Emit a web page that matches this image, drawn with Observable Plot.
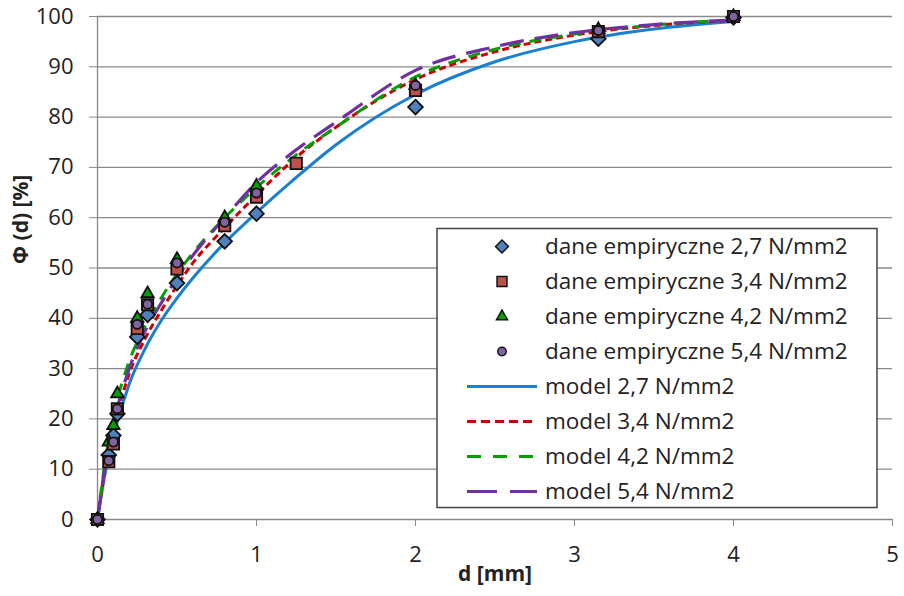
<!DOCTYPE html>
<html>
<head>
<meta charset="utf-8">
<script src="https://cdn.jsdelivr.net/npm/d3@7"></script>
<script src="https://cdn.jsdelivr.net/npm/@observablehq/plot@0.6"></script>
<style>
  html, body { margin: 0; padding: 0; background: #fff; }
  #chart svg { display: block; }
</style>
</head>
<body>
<div id="chart"></div>
<script>
// ---- data ----
const xTicks = [0, 1, 2, 3, 4, 5];
const yTicks = [0, 10, 20, 30, 40, 50, 60, 70, 80, 90, 100];

// empirical data (sieve size d [mm], cumulative %)
const dEmp = [0, 0.071, 0.1, 0.125, 0.25, 0.315, 0.5, 0.8, 1, 2, 3.15, 4];
const dEmp34 = [0, 0.071, 0.1, 0.125, 0.25, 0.315, 0.5, 0.8, 1, 1.25, 2, 3.15, 4];
const emp27 = [0, 12.8, 16.7, 21, 36.3, 40.7, 47, 55.3, 60.8, 82, 95.6, 99.8];
const emp34 = [0, 11.5, 15, 22, 38, 42.7, 49.8, 58.4, 64.1, 70.8, 85.3, 97, 100];
const emp42 = [0, 15.4, 18.7, 25, 40, 44.9, 51.7, 60, 66.3, 86.3, 97.4, 100];
const emp54 = [0, 11.7, 15.4, 22, 38.8, 42.8, 51, 59.1, 64.9, 86.3, 97.2, 100];

// model curves
const dModel = [0, 0.05, 0.1, 0.2, 0.3, 0.4, 0.5, 0.6, 0.8, 1, 1.25, 1.5, 2, 2.5, 3, 3.5, 4];
const model27 = [0, 9.5, 16.5, 27, 34, 39.5, 44, 48, 55, 61, 68, 74.5, 84.5, 91, 95, 97.5, 99];
const model34 = [0, 10.5, 18, 29, 36, 41.5, 46.5, 51, 58, 64.5, 72, 78, 87.5, 93, 96.3, 98.2, 99.2];
const model42 = [0, 12, 20.5, 31.5, 38.5, 44, 48.8, 53, 60, 66, 72.5, 78, 88, 93.5, 96.5, 98.3, 99.3];
const model54 = [0, 11, 19, 30, 37.5, 43, 48, 52.5, 60, 67, 73.5, 79, 89.3, 94, 96.8, 98.4, 99.3];

const legendLabels = [
  "dane empiryczne 2,7 N/mm2",
  "dane empiryczne 3,4 N/mm2",
  "dane empiryczne 4,2 N/mm2",
  "dane empiryczne 5,4 N/mm2",
  "model 2,7 N/mm2",
  "model 3,4 N/mm2",
  "model 4,2 N/mm2",
  "model 5,4 N/mm2"
];

// ---- styles ----
const lineStyles = [
  {stroke: "#1a7fd0", dash: null, width: 3},
  {stroke: "#cc0000", dash: "7,4", width: 3},
  {stroke: "#00a000", dash: "12,9", width: 3},
  {stroke: "#7030a0", dash: "24,11", width: 3.2}
];
const markerStyles = [
  {symbol: "diamond2", fill: "#4f81bd", r: 6.6, lr: 5.8},
  {symbol: "square", fill: "#c0504d", r: 6.4, lr: 5.6},
  {symbol: "triangle", fill: "#00a000", r: 4.6, lr: 4.1},
  {symbol: "circle", fill: "#8064a2", r: 4.6, lr: 4.2}
];

const zip = (xs, ys) => xs.map((x, i) => ({x, y: ys[i]}));
const empSeries = [zip(dEmp, emp27), zip(dEmp34, emp34), zip(dEmp, emp42), zip(dEmp, emp54)];
const modelSeries = [zip(dModel, model27), zip(dModel, model34), zip(dModel, model42), zip(dModel, model54)];

const lineMarks = modelSeries.map((s, i) => Plot.line(s, {
  x: "x", y: "y", curve: "monotone-x",
  stroke: lineStyles[i].stroke, strokeWidth: lineStyles[i].width,
  strokeDasharray: lineStyles[i].dash || undefined, strokeLinecap: "butt"
}));
const drawOrder = [0, 2, 1, 3];
const dotMarks = drawOrder.map(i => Plot.dot(empSeries[i], {
  x: "x", y: "y", symbol: markerStyles[i].symbol, r: markerStyles[i].r,
  fill: markerStyles[i].fill, stroke: "#111", strokeWidth: 1.8
}));

const chart = Plot.plot({
  width: 904, height: 596,
  marginLeft: 97, marginRight: 12, marginTop: 16, marginBottom: 77,
  style: {fontFamily: "'Open Sans', sans-serif", fontSize: "22px", color: "#222", background: "#fff"},
  x: {domain: [0, 5], ticks: xTicks},
  y: {domain: [0, 100], ticks: yTicks},
  marks: [
    Plot.gridY(yTicks.filter(v => v > 0), {stroke: "#8a8a8a", strokeOpacity: 1, strokeWidth: 1.3}),
    Plot.axisY({ticks: yTicks, tickSize: 8, tickPadding: 16, label: null, stroke: "#888", fill: "#222", fontSize: 22}),
    Plot.axisX({ticks: xTicks, tickSize: 7, tickPadding: 20, label: null, stroke: "#888", fill: "#222", fontSize: 22, tickFormat: d3.format("d")}),
    Plot.ruleX([0], {stroke: "#888", strokeWidth: 1.3}),
    Plot.ruleY([0], {stroke: "#888", strokeWidth: 1.3}),
    ...lineMarks,
    ...dotMarks,
    Plot.text(["d [mm]"], {frameAnchor: "bottom", dy: 61, text: d => d, fontWeight: "bold", fontSize: 21, fill: "#222"}),
    Plot.text(["Φ (d) [%]"], {frameAnchor: "left", dx: -76, dy: -4, rotate: -90, text: d => d, fontWeight: "bold", fontSize: 21, fill: "#222"})
  ]
});
document.getElementById("chart").appendChild(chart);

// ---- legend (inside plot area) ----
const svg = d3.select(chart);
const lg = svg.append("g").attr("font-family", "'Open Sans', sans-serif").attr("font-size", 22.5).attr("fill", "#222").attr("text-anchor", "start");
lg.append("rect").attr("x", 437).attr("y", 228.5).attr("width", 440).attr("height", 279)
  .attr("fill", "#fff").attr("stroke", "#444").attr("stroke-width", 1.5);
const rowY = i => 246.5 + i * 35;
const symbolMap = {diamond2: d3.symbolDiamond2, square: d3.symbolSquare, triangle: d3.symbolTriangle, circle: d3.symbolCircle};
legendLabels.forEach((lab, i) => {
  const y = rowY(i);
  if (i < 4) {
    const m = markerStyles[i];
    lg.append("path")
      .attr("transform", `translate(502,${y})`)
      .attr("d", d3.symbol(symbolMap[m.symbol], Math.PI * m.lr * m.lr)())
      .attr("fill", m.fill).attr("stroke", "#111").attr("stroke-width", 1.5);
  } else {
    const s = lineStyles[i - 4];
    lg.append("line").attr("x1", 467).attr("x2", 537).attr("y1", y).attr("y2", y)
      .attr("stroke", s.stroke).attr("stroke-width", s.width)
      .attr("stroke-dasharray", s.dash ? (i === 5 ? "9,5" : i === 6 ? "14,12" : "30,13") : null);
  }
  lg.append("text").attr("x", 545).attr("y", y).attr("dy", "0.35em").attr("text-anchor", "start").text(lab);
});
</script>
</body>
</html>
